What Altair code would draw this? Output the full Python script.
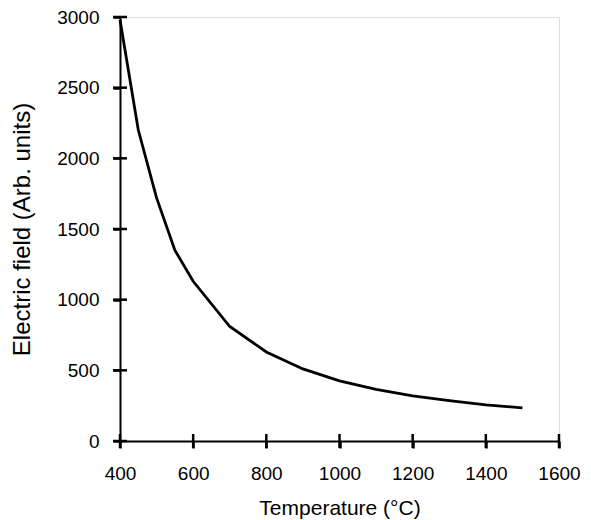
import altair as alt
import pandas as pd

temperature = [400, 450, 500, 550, 600, 700, 800, 900, 1000, 1100, 1200, 1300, 1400, 1500]
field = [2980, 2200, 1720, 1350, 1130, 810, 630, 510, 425, 365, 320, 285, 255, 235]
x_ticks = [400, 600, 800, 1000, 1200, 1400, 1600]
y_ticks = [0, 500, 1000, 1500, 2000, 2500, 3000]

df = pd.DataFrame({"T": temperature, "E": field})
xt = pd.DataFrame({"v": x_ticks})
yt = pd.DataFrame({"v": y_ticks})

FONT = "Liberation Sans"
W, H = 439, 424

xs = alt.Scale(domain=[400, 1600], nice=False, zero=False)
ys = alt.Scale(domain=[0, 3000], nice=False)

main = alt.Chart(df).mark_line(color="black", strokeWidth=2.8).encode(
    x=alt.X("T:Q", scale=xs, title="Temperature (°C)",
            axis=alt.Axis(orient="bottom", values=x_ticks, format="d", grid=False,
                          labelFlush=False, labelOverlap=False,
                          domainColor="black", domainWidth=2, tickColor="black",
                          tickWidth=2.5, tickSize=7, labelPadding=16,
                          labelFont=FONT, labelFontSize=19, labelColor="black",
                          titleFont=FONT, titleFontSize=21, titleFontWeight="normal",
                          titleColor="black", titlePadding=14)),
    y=alt.Y("E:Q", scale=ys, title="Electric field (Arb. units)",
            axis=alt.Axis(orient="left", values=y_ticks, format="d", grid=False,
                          labelFlush=False, labelOverlap=False,
                          domainColor="black", domainWidth=2, tickColor="black",
                          tickWidth=2.5, tickSize=7, labelPadding=14,
                          labelFont=FONT, labelFontSize=19, labelColor="black",
                          titleFont=FONT, titleFontSize=24, titleFontWeight="normal",
                          titleColor="black", titlePadding=22)),
)

xtick_marks = alt.Chart(xt).mark_tick(orient="vertical", size=14, thickness=2.5,
                                      color="black", opacity=1).encode(
    x=alt.X("v:Q", scale=xs, axis=None),
    y=alt.YDatum(0, type="quantitative", scale=ys, axis=None),
)

ytick_marks = alt.Chart(yt).mark_tick(orient="horizontal", size=14, thickness=2.5,
                                      color="black", opacity=1).encode(
    y=alt.Y("v:Q", scale=ys, axis=None),
    x=alt.XDatum(400, type="quantitative", scale=xs, axis=None),
)

chart = alt.layer(main, xtick_marks, ytick_marks).resolve_axis(
    x="independent", y="independent"
).properties(
    width=W, height=H,
    autosize=alt.AutoSizeParams(type="none"),
    padding={"left": 120, "top": 17, "right": 32, "bottom": 79},
).configure_view(stroke=None, strokeWidth=0).configure(background="white")

chart.save("out.html", embed_options={"renderer": "svg", "actions": False})
